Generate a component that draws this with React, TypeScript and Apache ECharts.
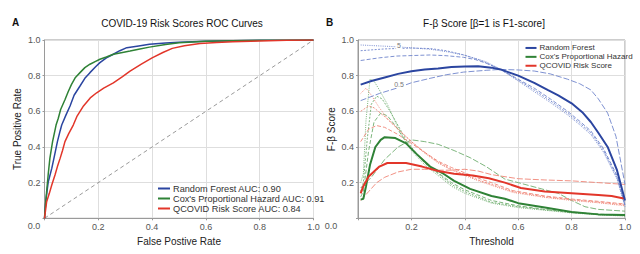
import React, { useEffect, useRef } from "react";
import * as echarts from "echarts";

// ---------- Panel A: ROC curves [FPR, TPR] ----------
const rfRoc = [[0,0],[0.005,0.1],[0.014,0.205],[0.027,0.28],[0.035,0.336],[0.048,0.43],[0.058,0.49],[0.064,0.523],[0.08,0.58],[0.095,0.63],[0.11,0.69],[0.132,0.742],[0.15,0.785],[0.169,0.817],[0.19,0.85],[0.206,0.873],[0.23,0.9],[0.256,0.92],[0.28,0.94],[0.306,0.957],[0.35,0.967],[0.39,0.976],[0.45,0.983],[0.5,0.988],[0.6,0.993],[0.7,0.996],[0.8,0.998],[0.9,0.999],[1,1]];
const coxRoc = [[0,0],[0.004,0.08],[0.008,0.15],[0.014,0.25],[0.02,0.336],[0.03,0.43],[0.043,0.523],[0.051,0.56],[0.06,0.61],[0.076,0.665],[0.088,0.71],[0.1,0.75],[0.115,0.79],[0.132,0.817],[0.15,0.845],[0.169,0.864],[0.19,0.88],[0.206,0.892],[0.23,0.905],[0.256,0.92],[0.29,0.93],[0.318,0.938],[0.35,0.948],[0.39,0.96],[0.45,0.975],[0.5,0.985],[0.6,0.993],[0.7,0.996],[0.8,0.998],[1,1]];
const qcRoc = [[0,0],[0.008,0.093],[0.018,0.14],[0.027,0.187],[0.039,0.243],[0.048,0.29],[0.058,0.336],[0.067,0.38],[0.076,0.43],[0.09,0.475],[0.107,0.523],[0.12,0.57],[0.145,0.63],[0.17,0.675],[0.194,0.704],[0.22,0.73],[0.256,0.76],[0.29,0.795],[0.318,0.826],[0.36,0.865],[0.4,0.9],[0.44,0.93],[0.475,0.953],[0.52,0.968],[0.578,0.98],[0.64,0.986],[0.7,0.99],[0.8,0.995],[0.9,0.998],[1,1]];
const diagonal = [[0,0],[1,1]];
const rocNames = ["Random Forest AUC: 0.90", "Cox's Proportional Hazard AUC: 0.91", "QCOVID Risk Score AUC: 0.84"];

// ---------- Panel B: F-beta vs threshold [threshold, score] ----------
const rfF1 = [[0.01,0.75],[0.05,0.77],[0.1,0.79],[0.15,0.81],[0.2,0.825],[0.25,0.835],[0.3,0.84],[0.35,0.848],[0.4,0.852],[0.45,0.853],[0.5,0.845],[0.534,0.835],[0.6,0.8],[0.66,0.76],[0.71,0.72],[0.75,0.69],[0.8,0.645],[0.84,0.595],[0.872,0.54],[0.9,0.48],[0.935,0.4],[0.97,0.27],[1.0,0.1]];
const rfF05 = [[0.01,0.66],[0.08,0.7],[0.145,0.73],[0.2,0.76],[0.27,0.785],[0.33,0.805],[0.395,0.82],[0.48,0.83],[0.534,0.835],[0.6,0.832],[0.66,0.826],[0.72,0.81],[0.785,0.78],[0.83,0.755],[0.872,0.72],[0.9,0.67],[0.935,0.59],[0.966,0.46],[1.0,0.19]];
const rfF2 = [[0.01,0.885],[0.08,0.9],[0.145,0.91],[0.27,0.916],[0.33,0.912],[0.395,0.903],[0.44,0.89],[0.48,0.87],[0.534,0.835],[0.6,0.78],[0.66,0.73],[0.72,0.67],[0.785,0.6],[0.83,0.545],[0.872,0.49],[0.92,0.39],[0.97,0.24],[1.0,0.075]];
const rfF3 = [[0.01,0.94],[0.1,0.95],[0.2,0.955],[0.27,0.952],[0.33,0.94],[0.4,0.915],[0.46,0.885],[0.534,0.835],[0.6,0.775],[0.66,0.72],[0.72,0.66],[0.785,0.59],[0.83,0.535],[0.872,0.48],[0.92,0.38],[0.97,0.23],[1.0,0.07]];
const rfF5 = [[0.01,0.972],[0.145,0.962],[0.27,0.948],[0.33,0.935],[0.395,0.916],[0.48,0.878],[0.534,0.835],[0.6,0.77],[0.66,0.71],[0.72,0.65],[0.785,0.58],[0.83,0.525],[0.872,0.47],[0.92,0.37],[0.97,0.22],[1.0,0.065]];

const coxF1 = [[0.01,0.105],[0.02,0.11],[0.03,0.18],[0.045,0.3],[0.065,0.4],[0.085,0.44],[0.1,0.455],[0.14,0.45],[0.18,0.42],[0.22,0.36],[0.27,0.29],[0.32,0.25],[0.36,0.21],[0.42,0.165],[0.5,0.125],[0.55,0.11],[0.6,0.085],[0.7,0.06],[0.8,0.035],[0.9,0.022],[1.0,0.018]];
const coxF05 = [[0.01,0.17],[0.05,0.23],[0.1,0.33],[0.15,0.4],[0.2,0.44],[0.25,0.43],[0.3,0.415],[0.36,0.38],[0.42,0.34],[0.48,0.29],[0.55,0.22],[0.6,0.2],[0.7,0.16],[0.75,0.14],[0.8,0.1],[0.85,0.065],[0.9,0.05],[1.0,0.04]];
const coxF2 = [[0.01,0.12],[0.02,0.15],[0.04,0.38],[0.06,0.54],[0.085,0.59],[0.11,0.575],[0.14,0.52],[0.17,0.45],[0.2,0.39],[0.25,0.31],[0.3,0.255],[0.35,0.2],[0.4,0.16],[0.5,0.1],[0.6,0.07],[0.7,0.05],[0.8,0.035],[0.9,0.024],[1.0,0.016]];
const coxF3 = [[0.01,0.15],[0.02,0.2],[0.035,0.45],[0.05,0.64],[0.07,0.685],[0.09,0.67],[0.12,0.6],[0.15,0.52],[0.18,0.44],[0.21,0.38],[0.25,0.31],[0.3,0.25],[0.35,0.19],[0.4,0.15],[0.5,0.09],[0.6,0.065],[0.7,0.048],[0.8,0.032],[0.9,0.022],[1.0,0.014]];
const coxF5 = [[0.01,0.2],[0.02,0.25],[0.03,0.55],[0.045,0.78],[0.06,0.77],[0.08,0.72],[0.11,0.64],[0.14,0.54],[0.17,0.45],[0.2,0.38],[0.25,0.3],[0.3,0.24],[0.35,0.18],[0.4,0.14],[0.5,0.085],[0.6,0.06],[0.7,0.045],[0.8,0.03],[0.9,0.02],[1.0,0.012]];

const qcF1 = [[0.01,0.14],[0.02,0.18],[0.04,0.235],[0.08,0.29],[0.11,0.31],[0.18,0.31],[0.24,0.29],[0.3,0.265],[0.36,0.25],[0.43,0.24],[0.49,0.225],[0.55,0.2],[0.61,0.17],[0.7,0.15],[0.8,0.14],[0.9,0.13],[0.95,0.125],[1.0,0.11]];
const qcF05 = [[0.01,0.1],[0.04,0.15],[0.07,0.2],[0.1,0.23],[0.15,0.26],[0.2,0.275],[0.25,0.275],[0.3,0.27],[0.35,0.27],[0.4,0.275],[0.45,0.265],[0.5,0.245],[0.6,0.222],[0.7,0.215],[0.8,0.21],[0.9,0.2],[1.0,0.19]];
const qcF2 = [[0.01,0.43],[0.04,0.5],[0.07,0.52],[0.1,0.51],[0.15,0.47],[0.2,0.42],[0.25,0.37],[0.3,0.32],[0.35,0.285],[0.4,0.255],[0.46,0.22],[0.5,0.2],[0.58,0.155],[0.7,0.125],[0.8,0.108],[0.9,0.095],[1.0,0.08]];
const qcF3 = [[0.01,0.6],[0.04,0.63],[0.06,0.62],[0.1,0.57],[0.15,0.5],[0.2,0.43],[0.25,0.37],[0.3,0.315],[0.35,0.275],[0.4,0.245],[0.46,0.21],[0.5,0.19],[0.58,0.15],[0.7,0.12],[0.8,0.104],[0.9,0.09],[1.0,0.075]];
const qcF5 = [[0.01,0.7],[0.03,0.73],[0.05,0.69],[0.08,0.62],[0.11,0.56],[0.15,0.5],[0.2,0.43],[0.25,0.365],[0.3,0.31],[0.35,0.27],[0.4,0.24],[0.46,0.205],[0.5,0.185],[0.58,0.145],[0.7,0.117],[0.8,0.1],[0.9,0.087],[1.0,0.07]];

const fNames = ["Random Forest", "Cox's Proportional Hazard", "QCOVID Risk Score"];

const BLUE = "#2b45a0";
const GREEN = "#2f8236";
const RED = "#e2362a";
const BLUE_L = "#6f84cc";
const GREEN_L = "#6fae6f";
const RED_L = "#ef8576";

const FONT = "'Liberation Sans', Arial, Helvetica, sans-serif";

function axisCommon(extra: any) {
  return {
    type: "value",
    min: 0,
    max: 1,
    interval: 0.2,
    axisLine: { show: true, lineStyle: { color: "#9a9a9a", width: 1 } },
    axisTick: { show: true, length: 2, lineStyle: { color: "#9a9a9a" } },
    splitLine: { show: true, lineStyle: { color: "#dedede", width: 1 } },
    axisLabel: {
      color: "#555",
      fontSize: 9,
      fontFamily: FONT,
      margin: 4,
      formatter: (v: number) => (v === 0 ? "" : v.toFixed(1)),
    },
    nameLocation: "middle",
    nameTextStyle: { color: "#222", fontSize: 10, fontFamily: FONT },
    ...extra,
  };
}

function solid(name: string, data: number[][], color: string, xi: number, w: number) {
  return {
    type: "line",
    name,
    data,
    xAxisIndex: xi,
    yAxisIndex: xi,
    showSymbol: false,
    symbol: "none",
    lineStyle: { color, width: w },
    itemStyle: { color },
    z: 5,
  };
}

function dashed(data: number[][], color: string, dash: number[]) {
  return {
    type: "line",
    name: "_",
    data,
    xAxisIndex: 1,
    yAxisIndex: 1,
    showSymbol: false,
    symbol: "none",
    lineStyle: { color, width: 0.9, type: dash },
    z: 3,
  };
}

const D05 = [6, 2];
const D2 = [4, 2];
const D3 = [2, 1.5];
const D5 = [1, 1.2];

const option: any = {
  animation: false,
  textStyle: { fontFamily: FONT },
  grid: [
    { left: 44.5, right: 326.5, top: 40, bottom: 35.7, show: true, borderColor: "#9a9a9a", borderWidth: 1 },
    { left: 358, right: 15, top: 40, bottom: 35.7, show: true, borderColor: "#9a9a9a", borderWidth: 1 },
  ],
  xAxis: [
    axisCommon({ gridIndex: 0, name: "False Postive Rate", nameGap: 14 }),
    axisCommon({ gridIndex: 1, name: "Threshold", nameGap: 17 }),
  ],
  yAxis: [
    axisCommon({ gridIndex: 0, name: "True Positive Rate", nameGap: 22 }),
    axisCommon({ gridIndex: 1, name: "F-β Score", nameGap: 22 }),
  ],
  legend: [
    {
      data: rocNames,
      orient: "vertical",
      left: 158,
      top: 183.5,
      itemWidth: 12,
      itemHeight: 2,
      itemGap: 0,
      icon: "rect",
      textStyle: { fontSize: 9.2, color: "#333", fontFamily: FONT, lineHeight: 10, padding: [0, 0, 0, -2] },
      padding: 0,
    },
    {
      data: fNames,
      orient: "vertical",
      left: 525.5,
      top: 43.5,
      itemWidth: 11,
      itemHeight: 2,
      itemGap: 0,
      icon: "rect",
      textStyle: { fontSize: 8, color: "#333", fontFamily: FONT, lineHeight: 8.9, padding: [0, 0, 0, -2] },
      padding: 0,
    },
  ],
  graphic: [
    { type: "text", left: 12, top: 17, style: { text: "A", font: `bold 10px ${FONT}`, fill: "#111" } },
    { type: "text", left: 326, top: 17, style: { text: "B", font: `bold 10px ${FONT}`, fill: "#111" } },
    { type: "text", x: 182, y: 23, style: { text: "COVID-19 Risk Scores ROC Curves", font: `10px ${FONT}`, fill: "#111", align: "center", verticalAlign: "middle" } },
    { type: "text", x: 484, y: 23, style: { text: "F-β Score [β=1 is F1-score]", font: `10px ${FONT}`, fill: "#111", align: "center", verticalAlign: "middle" } },
    { type: "text", x: 34, y: 226, style: { text: "0.0", font: `9px ${FONT}`, fill: "#555", align: "center", verticalAlign: "middle" } },
    { type: "text", x: 331, y: 226, style: { text: "0.0", font: `9px ${FONT}`, fill: "#555", align: "center", verticalAlign: "middle" } },
    { type: "text", x: 399, y: 45.5, z: 10, style: { text: "5", font: `7px ${FONT}`, fill: "#777", align: "center", verticalAlign: "middle", backgroundColor: "#fff", padding: [0, 1] } },
    { type: "text", x: 399, y: 84.5, z: 10, style: { text: "0.5", font: `7px ${FONT}`, fill: "#777", align: "center", verticalAlign: "middle", backgroundColor: "#fff", padding: [0, 1] } },
  ],
  series: [
    {
      type: "line",
      name: "diag",
      data: diagonal,
      xAxisIndex: 0,
      yAxisIndex: 0,
      showSymbol: false,
      symbol: "none",
      lineStyle: { color: "#9a9a9a", width: 1, type: [4, 3] },
      z: 2,
    },
    solid(rocNames[0], rfRoc, BLUE, 0, 1.5),
    solid(rocNames[1], coxRoc, GREEN, 0, 1.5),
    solid(rocNames[2], qcRoc, RED, 0, 1.5),

    dashed(coxF05, GREEN_L, D05),
    dashed(coxF2, GREEN_L, D2),
    dashed(coxF3, GREEN_L, D3),
    dashed(coxF5, GREEN_L, D5),
    dashed(qcF05, RED_L, D05),
    dashed(qcF2, RED_L, D2),
    dashed(qcF3, RED_L, D3),
    dashed(qcF5, RED_L, D5),
    dashed(rfF05, BLUE_L, D05),
    dashed(rfF2, BLUE_L, D2),
    dashed(rfF3, BLUE_L, D3),
    dashed(rfF5, BLUE_L, D5),

    solid(fNames[1], coxF1, GREEN, 1, 2),
    solid(fNames[2], qcF1, RED, 1, 2),
    solid(fNames[0], rfF1, BLUE, 1, 2),
  ],
};

export default function App() {
  const ref = useRef<HTMLDivElement>(null);
  useEffect(() => {
    const chart = echarts.init(ref.current!, null, { renderer: "svg" });
    chart.setOption(option);
    return () => chart.dispose();
  }, []);
  return (
    <div
      ref={ref}
      style={{ position: "absolute", left: 0, top: 0, width: 640, height: 254, background: "#fff" }}
    />
  );
}
